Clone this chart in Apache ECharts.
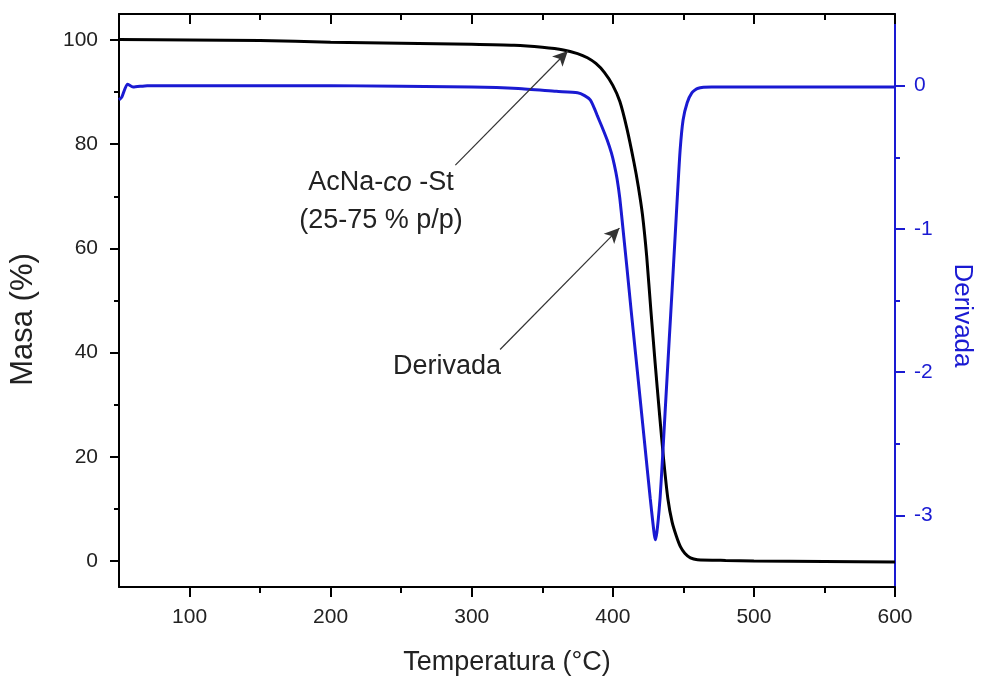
<!DOCTYPE html>
<html style="height: 100%">
<head>
  <meta charset="utf-8">
</head>
<body style="height: 100%; margin: 0; background: #fff">
  <div id="container" style="width: 983px; height: 681px"></div>
  <script src="https://cdn.jsdelivr.net/npm/echarts@6/dist/echarts.min.js"></script>
  <script>
// masa (%) vs temperatura (°C)
var masaT = [50, 100, 150, 200, 250, 300, 330, 350, 365, 375, 382, 388, 394, 400, 405, 410, 415, 418, 421, 424, 427, 430, 433, 436, 439, 442, 445, 448, 451, 455, 460, 480, 500, 550, 600];
var masa = [100.1, 100, 99.9, 99.6, 99.4, 99.2, 99.0, 98.6, 98.1, 97.4, 96.6, 95.5, 93.8, 91.3, 88.2, 83, 76.5, 72, 66.5, 58.5, 48, 38, 28.5, 19.5, 12, 7.5, 4.8, 2.7, 1.5, 0.6, 0.25, 0.1, 0, -0.1, -0.2];

// derivada vs temperatura (°C)
var derT = [50, 52, 56, 60, 70, 100, 200, 300, 333, 360, 375, 380, 384, 387, 389, 392, 396, 399, 401, 403, 405, 407, 410, 413, 416, 419.5, 423, 426.5, 428.5, 429.5, 430.3, 431.2, 432.2, 433.5, 435, 437, 440, 442, 444, 446, 447.7, 449.8, 452.7, 456, 460, 470, 600];
var deriv = [-0.1, -0.08, 0.01, -0.01, 0, 0, 0, -0.01, -0.02, -0.04, -0.05, -0.07, -0.1, -0.16, -0.21, -0.28, -0.38, -0.47, -0.55, -0.65, -0.79, -0.98, -1.27, -1.57, -1.86, -2.2, -2.54, -2.88, -3.06, -3.14, -3.17, -3.12, -3.03, -2.88, -2.64, -2.29, -1.77, -1.43, -1.08, -0.73, -0.45, -0.24, -0.12, -0.05, -0.02, -0.01, -0.01];

// tick values
var xTicks = [100, 200, 300, 400, 500, 600];
var masaTicks = [0, 20, 40, 60, 80, 100];
var derivTicks = [-3, -2, -1, 0];

var blue = '#1a1ad2';
var font = 'Liberation Sans, Arial, sans-serif';

function zip(xs, ys) {
  var out = [];
  for (var i = 0; i < xs.length; i++) out.push([xs[i], ys[i]]);
  return out;
}

var chart = echarts.init(document.getElementById('container'), null, { renderer: 'canvas' });

var black = { color: '#000', width: 2 };

var option = {
  animation: false,
  backgroundColor: '#fff',
  textStyle: { fontFamily: font },
  grid: { left: 119, right: 84, top: 14, bottom: 92 },
  xAxis: [{
    type: 'value', min: 50, max: 600, position: 'bottom',
    name: 'Temperatura (°C)', nameLocation: 'middle', nameGap: 62,
    nameTextStyle: { fontSize: 27, color: '#222', fontFamily: font },
    axisLine: { onZero: false, lineStyle: black },
    axisTick: { length: 10, lineStyle: black, customValues: xTicks },
    minorTick: { show: true, splitNumber: 2, length: 6, lineStyle: black },
    axisLabel: { fontSize: 21, color: '#222', margin: 20, fontFamily: font, customValues: xTicks },
    splitLine: { show: false }
  }, {
    type: 'value', min: 50, max: 600, position: 'top',
    axisLine: { onZero: false, lineStyle: black },
    axisTick: { inside: true, length: 10, lineStyle: black, customValues: xTicks },
    minorTick: { show: true, splitNumber: 2, length: 6, lineStyle: black },
    axisLabel: { show: false },
    splitLine: { show: false }
  }],
  yAxis: [{
    type: 'value', min: -5, max: 105, position: 'left',
    name: 'Masa (%)', nameLocation: 'middle', nameRotate: 90, nameGap: 80,
    nameTextStyle: { fontSize: 31, color: '#222', fontFamily: font, padding: [0, 38, 0, 0] },
    axisLine: { show: true, onZero: false, lineStyle: black },
    axisTick: { show: true, length: 9, lineStyle: black, customValues: masaTicks },
    minorTick: { show: true, splitNumber: 2, length: 5, lineStyle: black },
    axisLabel: { fontSize: 21, color: '#222', margin: 21, fontFamily: font, customValues: masaTicks },
    splitLine: { show: false }
  }, {
    type: 'value', min: -3.5, max: 0.5, position: 'right',
    name: 'Derivada', nameLocation: 'middle', nameRotate: -90, nameGap: 54,
    nameTextStyle: { fontSize: 26, color: blue, fontFamily: font, padding: [0, 0, 0, 30] },
    axisLine: { show: true, onZero: false, lineStyle: { color: blue, width: 2 } },
    axisTick: { show: true, length: 10, lineStyle: { color: blue, width: 2 }, customValues: derivTicks },
    minorTick: { show: true, splitNumber: 2, length: 5, lineStyle: { color: blue, width: 2 } },
    axisLabel: { fontSize: 21, color: blue, margin: 19, fontFamily: font, customValues: derivTicks },
    splitLine: { show: false }
  }],
  series: [{
    name: 'Masa', type: 'line', xAxisIndex: 0, yAxisIndex: 0,
    data: zip(masaT, masa), showSymbol: false, smooth: 0.2,
    lineStyle: { color: '#000', width: 3 }, itemStyle: { color: '#000' },
    markLine: {
      silent: true, symbol: ['none', 'arrow'], symbolSize: [11, 15],
      label: { show: false },
      lineStyle: { color: '#333', width: 1.2, type: 'solid' },
      data: [
        [{ coord: [288.4, 76] }, { coord: [368.1, 97.9] }],
        [{ coord: [320.1, 40.6] }, { coord: [404.7, 63.9] }]
      ]
    }
  }, {
    name: 'Derivada', type: 'line', xAxisIndex: 0, yAxisIndex: 1,
    data: zip(derT, deriv), showSymbol: false, smooth: 0.2,
    lineStyle: { color: blue, width: 3 }, itemStyle: { color: blue }
  }],
  graphic: [{
    type: 'text', x: 381, y: 183,
    style: {
      text: 'AcNa-{i|co} -St', fill: '#222', font: '27px ' + font,
      align: 'center', verticalAlign: 'middle',
      rich: { i: { fontStyle: 'italic', fontSize: 27, fontFamily: font, fill: '#222' } }
    }
  }, {
    type: 'text', x: 381, y: 221,
    style: { text: '(25-75 % p/p)', fill: '#222', font: '27px ' + font, align: 'center', verticalAlign: 'middle' }
  }, {
    type: 'text', x: 447, y: 367,
    style: { text: 'Derivada', fill: '#222', font: '27px ' + font, align: 'center', verticalAlign: 'middle' }
  }]
};

chart.setOption(option);
window.addEventListener('resize', chart.resize);
  </script>
</body>
</html>
